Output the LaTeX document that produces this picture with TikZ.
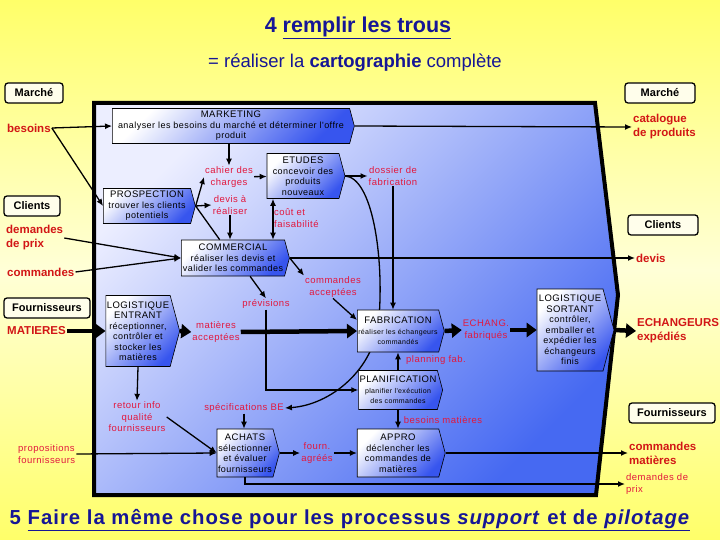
\documentclass[tikz,border=0pt]{standalone}
\usepackage{fontspec}
\setmainfont{Liberation Sans}
\newfontfamily\espace[LetterSpace=5]{Liberation Sans}
\usetikzlibrary{arrows.meta, shapes.symbols, calc}

\definecolor{fondjaune}{RGB}{255,255,105}
\definecolor{jaunepale}{RGB}{255,255,215}
\definecolor{zoneclair}{RGB}{236,238,255}
\definecolor{zonebleu}{RGB}{70,105,242}
\definecolor{procbleu}{RGB}{55,85,238}
\definecolor{fluxrouge}{RGB}{226,24,62}
\definecolor{extrouge}{RGB}{210,22,22}
\definecolor{titrebleu}{RGB}{22,22,150}

\pgfdeclarelayer{fond}
\pgfdeclarelayer{dessous}
\pgfsetlayers{fond,dessous,main}

\newcommand{\titrebox}[1]{{\fontsize{9.5}{11}\selectfont #1}}
\newcommand{\petit}{\fontsize{7}{9}\selectfont}

\tikzset{
  >={Latex[length=7pt,width=6pt]},
  processus/.style={signal, signal to=east, signal pointer angle=150, draw=black, line width=0.6pt,
    top color=white, bottom color=procbleu, shading angle=45, align=center, inner sep=1pt,
    font=\espace\fontsize{9}{10.5}\selectfont},
  flux/.style={text=fluxrouge, align=center, inner sep=1pt, font=\espace\fontsize{9.5}{11.5}\selectfont},
  externe/.style={text=extrouge, align=left, inner sep=1pt, font=\bfseries\fontsize{11.5}{14}\selectfont},
  acteur/.style={draw=black, line width=1.3pt, rounded corners=3pt, fill=yellow!8, inner sep=2pt,
    minimum height=20pt, font=\bfseries\fontsize{11}{13}\selectfont},
  lien/.style={line width=1.3pt, ->},
  gros/.style={line width=4.5pt, -{Triangle[length=10pt,width=14pt]}},
}

\begin{document}
\begin{tikzpicture}[x=1pt, y=-1pt]
  \useasboundingbox (0,0) rectangle (720,540);
  \begin{pgfonlayer}{fond}
    \fill[top color=fondjaune, bottom color=fondjaune, middle color=jaunepale] (0,0) rectangle (720,540);
    \draw[line width=4pt, top color=zoneclair, bottom color=zonebleu, shading angle=45]
      (94,103) -- (595,103) -- (618,295) -- (596,495) -- (94,495) -- cycle;
  \end{pgfonlayer}

  \node[text=titrebleu, font=\bfseries\fontsize{21.5}{24}\selectfont] (titre) at (358,28) {4 \underline{remplir les trous}};
  \node[text=titrebleu, font=\fontsize{18.5}{21}\selectfont] (soustitre) at (355,63) {= réaliser la \textbf{cartographie} complète};
  \node[text=titrebleu, font=\espace\bfseries\fontsize{20.3}{23}\selectfont] (suite) at (350,520)
    {5 \underline{Faire la même chose pour les processus \textit{support} et de \textit{pilotage}}};

  \node[acteur, minimum width=58pt] (marcheG) at (34,93) {Marché};
  \node[acteur, minimum width=56pt] (clientsG) at (32,206) {Clients};
  \node[acteur, minimum width=86pt] (fourG) at (47,308) {Fournisseurs};
  \node[acteur, minimum width=70pt] (marcheD) at (660,93) {Marché};
  \node[acteur, minimum width=70pt] (clientsD) at (663,225) {Clients};
  \node[acteur, minimum width=86pt] (fourD) at (672,413) {Fournisseurs};

  \node[externe, anchor=west] (besoins) at (6,128) {besoins};
  \node[externe, anchor=west] (demprix) at (5,238) {demandes\\de prix};
  \node[externe, anchor=west] (commandes) at (6,272) {commandes};
  \node[externe, anchor=west] (matieres) at (6,331) {MATIERES};
  \node[flux, anchor=west, align=left] (propos) at (17,454) {propositions\\fournisseurs};
  \node[externe, anchor=west] (catalogue) at (632,127) {catalogue\\de produits};
  \node[externe, anchor=west] (devisD) at (635,258) {devis};
  \node[externe, anchor=west] (echexp) at (636,331) {ECHANGEURS\\expédiés};
  \node[externe, anchor=west] (cmdmat) at (628,453) {commandes\\matières};
  \node[flux, anchor=west, align=left] (demprixD) at (625,484) {demandes de\\prix};

  \node[processus, minimum width=242pt, minimum height=35pt] (mkt) at (231,126)
    {\titrebox{MARKETING}\\analyser les besoins du marché et déterminer l'offre\\produit};
  \node[processus, minimum width=78pt, minimum height=45pt] (etu) at (303,176)
    {\titrebox{ETUDES}\\concevoir des\\produits\\nouveaux};
  \node[processus, minimum width=92pt, minimum height=35pt] (pros) at (147,206)
    {\titrebox{PROSPECTION}\\trouver les clients\\potentiels};
  \node[processus, minimum width=108pt, minimum height=36pt] (com) at (233,258)
    {\titrebox{COMMERCIAL}\\réaliser les devis et\\valider les commandes};
  \node[processus, minimum width=69pt, minimum height=71pt] (lent) at (138,331)
    {\titrebox{LOGISTIQUE}\\\titrebox{ENTRANT}\\réceptionner,\\contrôler et\\stocker les\\matières};
  \node[processus, minimum width=84pt, minimum height=42pt] (fab) at (398,331)
    {\titrebox{FABRICATION}\\{\petit réaliser les échangeurs}\\{\petit commandés}};
  \node[processus, minimum width=84pt, minimum height=39pt] (plan) at (398,390)
    {\titrebox{PLANIFICATION}\\{\petit planifier l'exécution}\\{\petit des commandes}};
  \node[processus, minimum width=62pt, minimum height=48pt] (ach) at (245,453)
    {\titrebox{ACHATS}\\sélectionner\\et évaluer\\fournisseurs};
  \node[processus, minimum width=88pt, minimum height=48pt] (appro) at (398,453)
    {\titrebox{APPRO}\\déclencher les\\commandes de\\matières};
  \node[processus, minimum width=77pt, minimum height=82pt] (lsort) at (570,330)
    {\titrebox{LOGISTIQUE}\\\titrebox{SORTANT}\\contrôler,\\emballer et\\expédier les\\échangeurs\\finis};

  \node[flux] (cahier) at (229,177) {cahier des\\charges};
  \node[flux] (devis) at (230,205) {devis à\\réaliser};
  \node[flux, anchor=west, align=left] (cout) at (273,218) {coût et\\faisabilité};
  \node[flux] (dossier) at (393,176) {dossier de\\fabrication};
  \node[flux] (cmdacc) at (333,287) {commandes\\acceptées};
  \node[flux] (prev) at (266,304) {prévisions};
  \node[flux] (matacc) at (216,332) {matières\\acceptées};
  \node[flux] (echfab) at (486,330) {ECHANG.\\fabriqués};
  \node[flux] (planfab) at (436,360) {planning fab.};
  \node[flux] (retour) at (137,417) {retour info\\qualité\\fournisseurs};
  \node[flux] (spec) at (244,408) {spécifications BE};
  \node[flux] (besmat) at (443,420) {besoins matières};
  \node[flux] (fourn) at (317,453) {fourn.\\agréés};

  \begin{pgfonlayer}{dessous}
    \draw[lien] (etu.east) .. controls (372,178) and (384,255) .. (379,318)
      .. controls (375,370) and (330,405) .. (spec.east);
  \end{pgfonlayer}

  \draw[lien] (besoins.east) -- (mkt.west);
  \draw[lien] (besoins.east) -- (pros.west);
  \draw[lien] (mkt.east) -- (catalogue.west);
  \draw[lien] (mkt.south -| cahier.north) -- (cahier.north);
  \draw[lien] (cahier) -- (etu);
  \draw[lien] (pros.east) -- (cahier.west);
  \draw[lien] (pros.east) -- (devis.west);
  \draw[line width=1.3pt] (pros.east) -- (com.126);
  \draw[lien] (devis.south) -- (com.north -| devis.south);
  \draw[lien, <->] (etu.south -| cout.west) -- (com.north -| cout.west);
  \draw[lien] (etu.east) -- (dossier.west);
  \draw[lien] (dossier.south) -- (dossier.south |- fab.north);
  \draw[lien] (demprix.east) -- (com.west);
  \draw[lien] (commandes.east) -- (com.west);
  \draw[lien] (com.east) -- (devisD.west);
  \draw[lien] (com.east) -- (cmdacc.north west);
  \draw[lien] (cmdacc.south) -- (fab.165);
  \draw[lien] (com.-47) -- (prev.north);
  \draw[lien] (prev.south) |- (plan.west);
  \draw[gros] (matieres.east) -- (lent.west);
  \draw[gros] (lent.east) -- (matacc.west);
  \draw[gros] (matacc.east) -- (fab.west);
  \draw[gros] (fab.east) -- (echfab.west);
  \draw[gros] (echfab.east) -- (lsort.west);
  \draw[gros] (lsort.east) -- (echexp.west);
  \draw[lien] (plan.north) -- (fab.south);
  \draw[lien] (plan.south) -- (appro.north);
  \draw[lien] (lent.south) -- (retour.north);
  \draw[lien] (retour.east) -- (ach.west);
  \draw[lien] (propos.east) -- (ach.west);
  \draw[lien] (spec.south) -- (spec.south |- ach.north);
  \draw[lien] (ach.east) -- (fourn.west);
  \draw[lien] (fourn.east) -- (appro.west);
  \draw[lien] (appro.east) -- (cmdmat.west);
  \draw[lien] (ach.south) |- (demprixD.west);
\end{tikzpicture}
\end{document}
